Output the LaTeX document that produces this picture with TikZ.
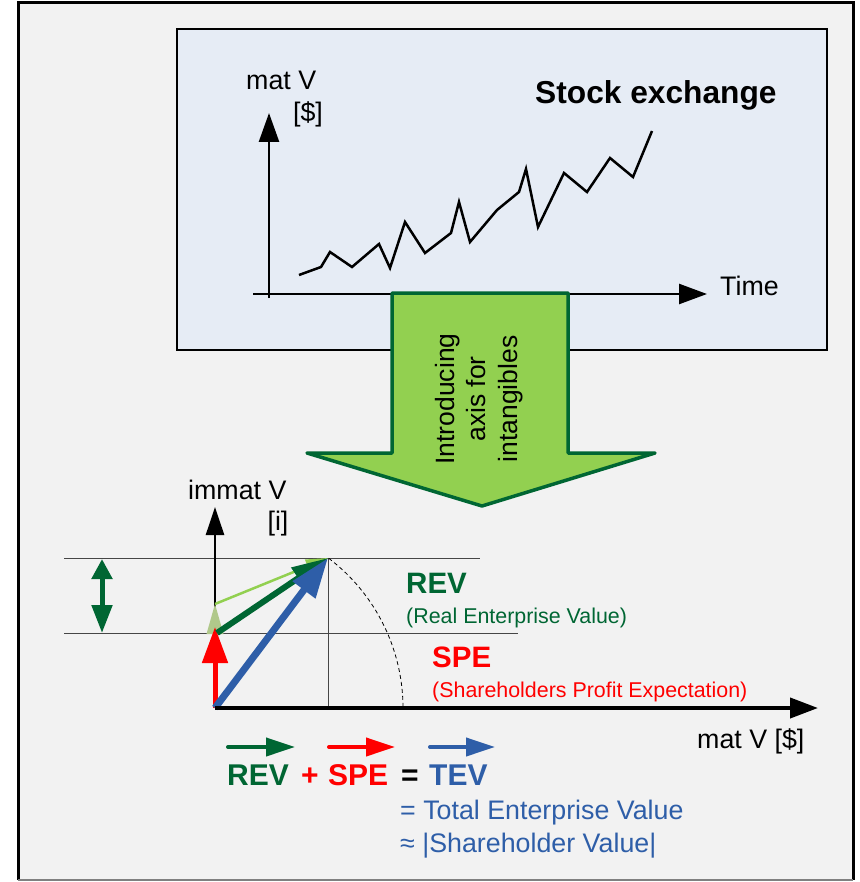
\documentclass[tikz,border=0pt]{standalone}
\usepackage{fontspec}
\setmainfont{Liberation Sans}
\usetikzlibrary{arrows.meta}
\definecolor{dkgreen}{RGB}{0,102,51}
\definecolor{ltgreen}{RGB}{146,208,80}
\definecolor{palegreen}{RGB}{176,200,138}
\definecolor{tblue}{RGB}{46,94,168}
\definecolor{boxblue}{RGB}{230,236,245}
\definecolor{outerbg}{RGB}{242,242,242}
\definecolor{thinline}{RGB}{70,70,70}
\tikzset{
  txt/.style={inner sep=0pt, font=\fontsize{26.8}{31}\selectfont},
  smalltxt/.style={inner sep=0pt, font=\fontsize{21.4}{25}\selectfont},
  boldtxt/.style={inner sep=0pt, font=\fontsize{30}{34}\selectfont\bfseries},
  axisline/.style={line width=2.5pt},
  thin line/.style={thinline, line width=1pt},
}
\begin{document}
\begin{tikzpicture}[x=1pt,y=-1pt]
\useasboundingbox (0,0) rectangle (859,882);
\fill[white] (0,0) rectangle (859,882);
% outer frame
\fill[outerbg] (18,3) rectangle (853,880);
\draw[line width=3pt] (18,880) -- (18,3) -- (853,3) -- (853,880);
\draw[gray, line width=1.5pt] (18,880) -- (853,880);

% stock exchange box
\draw[fill=boxblue, line width=2.5pt] (177,29) rectangle (827,350);
\coordinate (ya0) at (269,298);
\coordinate (ya1) at (269,113);
\coordinate (ta0) at (253,294);
\coordinate (ta1) at (707,294);
\draw[axisline, -{Triangle[length=29pt,width=20pt]}] (ya0) -- (ya1);
\draw[axisline, -{Triangle[length=28pt,width=20pt]}] (ta0) -- (ta1);
\draw[line width=2.5pt] (299,275) -- (321,267) -- (330,252) -- (352,267) -- (379,244)
  -- (390,268) -- (405,222) -- (425,253) -- (451,233) -- (459,202) -- (470,242)
  -- (497,210) -- (519,192) -- (526,169) -- (538,227) -- (564,173) -- (587,192)
  -- (610,158) -- (633,177) -- (652,131);
\node[txt, anchor=base west] (matv) at (246,90) {mat V};
\node[txt] (matvu) at (308,114) {[\$]};
\node[txt, anchor=base west] (time) at (720,295) {Time};
\node[inner sep=0pt, anchor=base west, font=\fontsize{31.7}{35}\selectfont\bfseries] (stock) at (535,104) {Stock exchange};

% big green arrow
\draw[fill=ltgreen, draw=dkgreen, line width=3.5pt, line join=round]
  (392,293) -- (568,293) -- (568,453) -- (655,453) -- (482,506) -- (307,453) -- (392,453) -- cycle;
\node[rotate=90, align=center, inner sep=0pt, font=\fontsize{26.5}{31.5}\selectfont] (arrtxt) at (479,399) {Introducing\\axis for\\intangibles};

% lower diagram
\coordinate (O) at (215,708);
\coordinate (P) at (328,558);
\coordinate (Q) at (215,633);
\coordinate (R) at (215,604);
\coordinate (L1a) at (64,558);
\coordinate (L1b) at (480,558);
\coordinate (L2a) at (64,633);
\coordinate (L2b) at (518,633);
\coordinate (Px) at (328,708);
\coordinate (yb1) at (215,507);
\coordinate (xb1) at (818,708);
\coordinate (da) at (102,559);
\coordinate (db) at (102,633);
\draw[thin line] (L1a) -- (L1b);
\draw[thin line] (L2a) -- (L2b);
\draw[thinline, line width=1pt] (P) -- (Px);
\draw[dashed, line width=0.8pt, dash pattern=on 4pt off 3pt] plot[domain=52.8:0, samples=40, smooth] ({215+188*cos(\x)},{708-188*sin(\x)});
\draw[axisline, -{Triangle[length=28pt,width=18pt]}] (O) -- (yb1);
\draw[dkgreen, line width=5pt, {Triangle[length=20pt,width=20pt]}-{Triangle[length=28pt,width=20pt]}] (da) -- (db);
\fill[palegreen] (215,604) -- (223.5,634) -- (206.5,634) -- cycle;
\draw[ltgreen, line width=2.5pt, -{Triangle[length=22pt,width=14pt]}] (R) -- (P);
\draw[red, line width=5pt, -{Triangle[length=36pt,width=25pt]}] (O) -- (215,627);
\draw[dkgreen, line width=6pt, -{Triangle[length=36pt,width=24pt]}] (217,633) -- (P);
\draw[tblue, line width=7pt, -{Triangle[length=40pt,width=27pt]}] (O) -- (P);
\draw[line width=4pt, -{Triangle[length=28pt,width=20pt]}] (O) -- (xb1);

\node[txt, anchor=base west] (immat) at (188,499) {immat V};
\node[txt] (immatu) at (278,524) {[i]};
\node[inner sep=0pt, anchor=base west, font=\fontsize{29.5}{33}\selectfont\bfseries, text=dkgreen] (rev) at (406,593) {REV};
\node[smalltxt, anchor=base west, text=dkgreen] (revt) at (406,623) {(Real Enterprise Value)};
\node[inner sep=0pt, anchor=base west, font=\fontsize{29.5}{33}\selectfont\bfseries, text=red] (spe) at (432,667) {SPE};
\node[smalltxt, anchor=base west, text=red] (spet) at (432,697) {(Shareholders Profit Expectation)};
\node[txt, anchor=base west] (matvb) at (697,748) {mat V [\$]};

% equation
\coordinate (ga) at (228,747); \coordinate (gb) at (295,747);
\coordinate (ra) at (329,747); \coordinate (rb) at (395,747);
\coordinate (ba) at (430,747); \coordinate (bb) at (495,747);
\draw[dkgreen, line width=4pt, line cap=round, -{Triangle[length=29pt,width=18pt]}] (ga) -- (gb);
\draw[red, line width=4pt, line cap=round, -{Triangle[length=29pt,width=18pt]}] (ra) -- (rb);
\draw[tblue, line width=4pt, line cap=round, -{Triangle[length=29pt,width=18pt]}] (ba) -- (bb);
\node[boldtxt, anchor=base west, text=dkgreen] (erev) at (227,785) {REV};
\node[boldtxt, anchor=base, text=red] (eplus) at (310,785) {+};
\node[boldtxt, anchor=base west, text=red] (espe) at (328,785) {SPE};
\node[boldtxt, anchor=base, text=black] (eeq) at (410,785) {=};
\node[boldtxt, anchor=base west, text=tblue] (etev) at (429,785) {TEV};
\node[txt, anchor=base west, text=tblue] (tev1) at (400,819) {= Total Enterprise Value};
\node[txt, anchor=base west, text=tblue] (tev2) at (400,852) {≈ |Shareholder Value|};
\end{tikzpicture}
\end{document}
